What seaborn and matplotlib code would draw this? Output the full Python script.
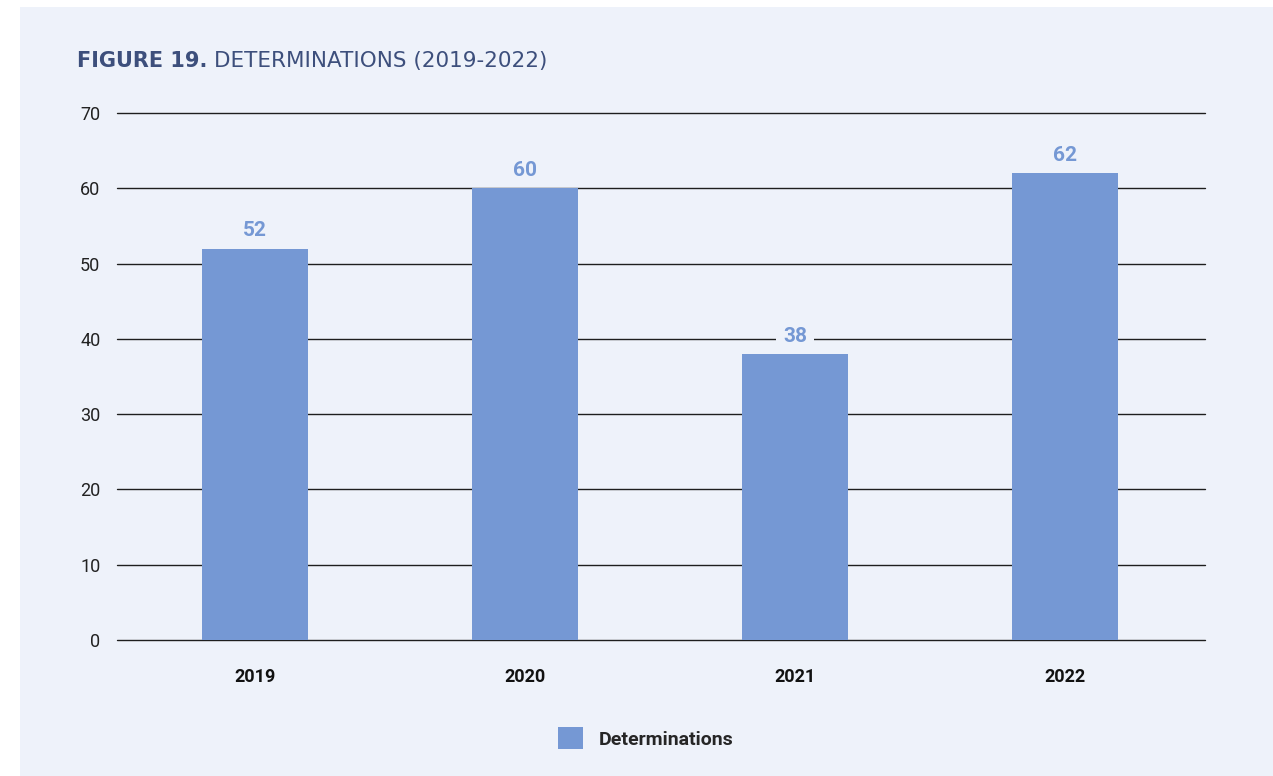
import matplotlib
matplotlib.use("Agg")
import matplotlib.pyplot as plt
from matplotlib.patches import Rectangle, Patch
import seaborn as sns
import pandas as pd

years = ["2019", "2020", "2021", "2022"]
determinations = [52, 60, 38, 62]
y_ticks = [0, 10, 20, 30, 40, 50, 60, 70]
series_name = "Determinations"

panel_bg = "#EEF2FA"
bar_color = "#7598D4"
title_color = "#3D4F7C"

sns.set_theme(style="white")
plt.rcParams["font.family"] = ["Roboto", "DejaVu Sans"]

df = pd.DataFrame({"Year": years, series_name: determinations})

fig = plt.figure(figsize=(12.73, 7.76), dpi=100, facecolor="white")
W, H = 1273, 776
fig.patches.append(Rectangle((20 / W, 0), 1 - 20 / W, 1 - 7 / H,
                             transform=fig.transFigure, facecolor=panel_bg,
                             edgecolor="none", zorder=-5))

ax = fig.add_axes([117 / W, 1 - 640 / H, (1205 - 117) / W, (640 - 113) / H])
ax.set_zorder(2)
ax.set_facecolor("none")

sns.barplot(data=df, x="Year", y=series_name, color=bar_color, width=0.393,
            saturation=1, linewidth=0, edgecolor="none", ax=ax, zorder=3)

ax.set_ylim(0, 70)
ax.set_yticks(y_ticks)
ax.set_xlim(-0.511, 3.5185)
for t in y_ticks:
    ax.axhline(t, color="#1E1E1E", lw=1.0, zorder=1, clip_on=False)

for s in ax.spines.values():
    s.set_visible(False)
ax.tick_params(axis="y", length=0, pad=12, labelsize=13, labelcolor="#222222")
ax.tick_params(axis="x", length=0, pad=20, labelsize=13)
for lab in ax.get_xticklabels():
    lab.set_fontweight("bold")
    lab.set_color("#111111")
ax.set_xlabel("")
ax.set_ylabel("")

for i, v in enumerate(determinations):
    ax.annotate(str(v), (i, v), xytext=(0, 6), textcoords="offset points",
                ha="center", va="bottom", fontsize=15, fontweight="bold",
                color=bar_color, zorder=4,
                bbox=dict(boxstyle="square,pad=0.35", fc=panel_bg, ec="none"))

fig.text(77 / W, 1 - 61 / H, "FIGURE 19.", fontsize=15, fontweight="bold",
         color=title_color, va="center", ha="left", family="DejaVu Sans")
fig.text(214 / W, 1 - 61 / H, "DETERMINATIONS (2019-2022)", fontsize=15.5,
         color=title_color, va="center", ha="left", family="DejaVu Sans")

fig.legend(handles=[Patch(facecolor=bar_color, edgecolor="none", label=series_name)],
           loc="center", bbox_to_anchor=(646 / W, 1 - 738 / H),
           frameon=False, handlelength=1.3, handleheight=1.3, handletextpad=0.8,
           prop={"weight": "bold", "size": 14})

fig.savefig("out.png", dpi=100, facecolor="white")
